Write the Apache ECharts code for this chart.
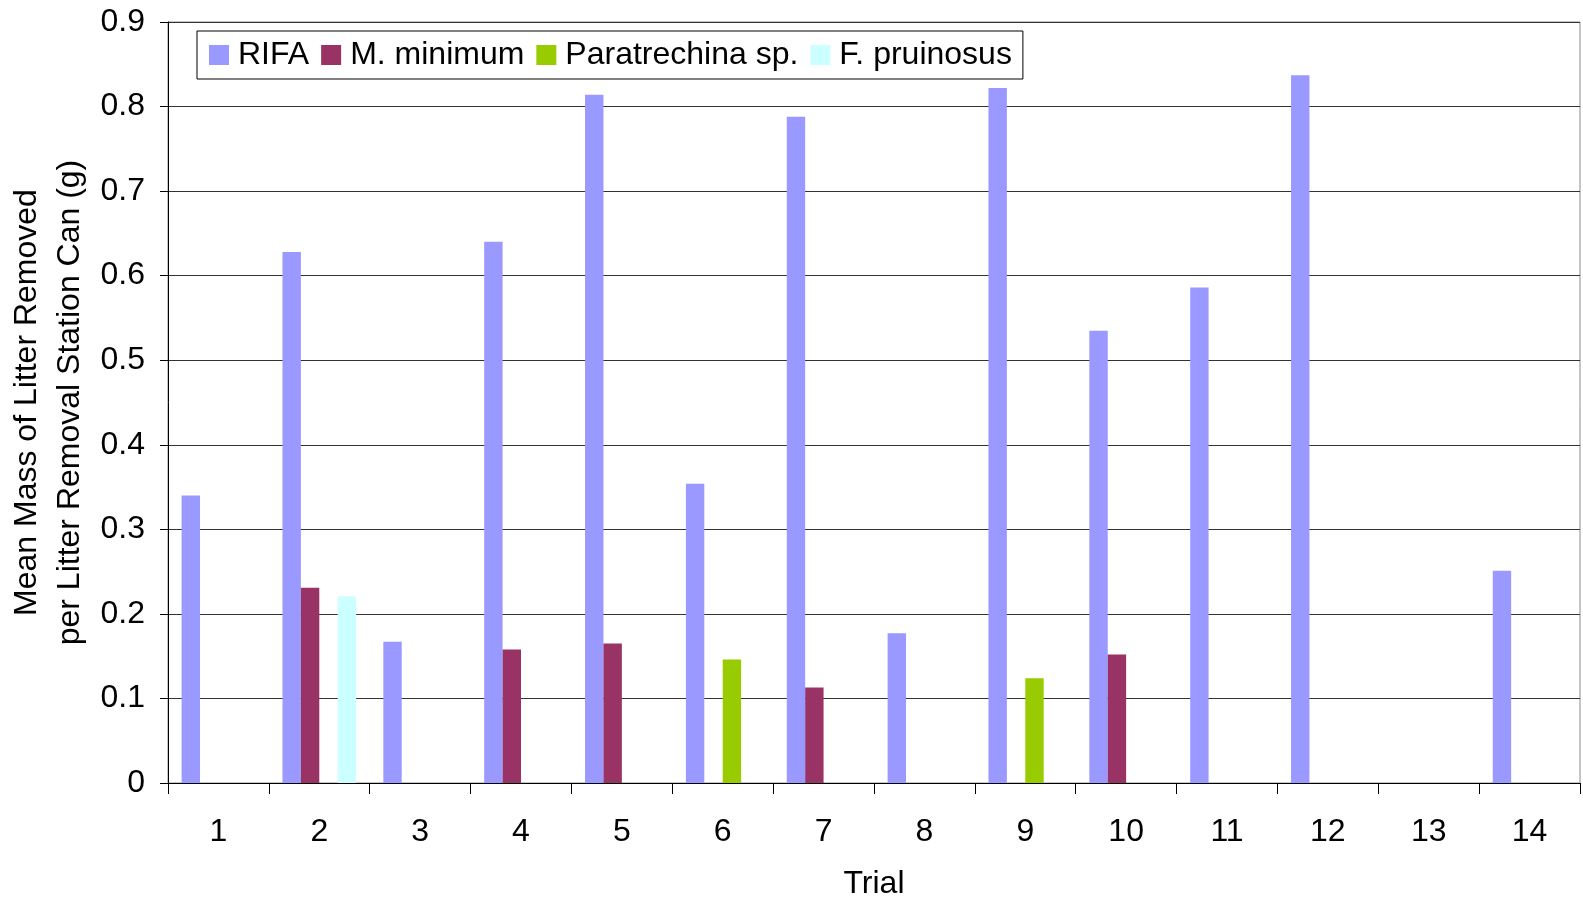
<!DOCTYPE html>
<html>
<head>
<meta charset="utf-8">
<title>Mean Mass of Litter Removed per Trial</title>
<script src="https://cdn.jsdelivr.net/npm/echarts@6/dist/echarts.min.js"></script>
<style>
  html, body { margin: 0; padding: 0; background: #ffffff; }
  #chart { width: 1583px; height: 901px; }
</style>
</head>
<body>
<div id="chart"></div>
<script>
// Trials on the x axis
const categories = ['1', '2', '3', '4', '5', '6', '7', '8', '9', '10', '11', '12', '13', '14'];

// Mean mass (g) of litter removed per station can, by ant species
const rifa         = [0.340, 0.628, 0.167, 0.640, 0.814, 0.354, 0.788, 0.177, 0.822, 0.535, 0.586, 0.837, null, 0.251];
const mMinimum     = [null, 0.231, null, 0.158, 0.165, null, 0.113, null, null, 0.152, null, null, null, null];
const paratrechina = [null, null, null, null, null, 0.146, null, null, 0.124, null, null, null, null, null];
const fPruinosus   = [null, 0.221, null, null, null, null, null, null, null, null, null, null, null, null];

const seriesNames = ['RIFA', 'M. minimum', 'Paratrechina sp.', 'F. pruinosus'];
const yTickLabels = ['0', '0.1', '0.2', '0.3', '0.4', '0.5', '0.6', '0.7', '0.8', '0.9'];

const FONT = "'Liberation Sans', Arial, Helvetica, sans-serif";
const FS = 32;
const colors = ['#9999FF', '#993366', '#99CC00', '#CCFFFF'];

const chart = echarts.init(document.getElementById('chart'), null, { renderer: 'canvas' });

const barSeries = [rifa, mMinimum, paratrechina, fPruinosus].map((data, i) => ({
  name: seriesNames[i],
  type: 'bar',
  data: data.map(v => (v === null ? '-' : v)),
  barGap: '0%',
  barCategoryGap: '27%',
  itemStyle: { color: colors[i] },
  emphasis: { disabled: true }
}));

chart.setOption({
  animation: false,
  backgroundColor: '#ffffff',
  textStyle: { fontFamily: FONT, color: '#000' },
  grid: {
    left: 168, right: 3, top: 22, bottom: 118,
    containLabel: false, outerBoundsMode: 'none',
    show: true, borderColor: '#8c8c8c', borderWidth: 1, backgroundColor: 'transparent'
  },
  legend: {
    data: seriesNames,
    left: 197, top: 31,
    padding: [8, 11, 8, 12],
    itemWidth: 20, itemHeight: 20, itemGap: 12,
    icon: 'rect',
    borderColor: '#000', borderWidth: 1,
    textStyle: { fontFamily: FONT, fontSize: FS, color: '#000', padding: [0, 0, 0, 4] }
  },
  xAxis: {
    type: 'category',
    data: categories,
    name: 'Trial',
    nameLocation: 'middle',
    nameGap: 85,
    nameMoveOverlap: false,
    nameTextStyle: { fontFamily: FONT, fontSize: FS, color: '#000' },
    axisLine: { lineStyle: { color: '#000', width: 1 } },
    axisTick: { show: true, alignWithLabel: false, length: 11, lineStyle: { color: '#000' } },
    axisLabel: { fontFamily: FONT, fontSize: FS, color: '#000', margin: 33 },
    splitLine: { show: false }
  },
  yAxis: {
    type: 'value',
    min: 0, max: 0.9, interval: 0.1,
    name: 'Mean Mass of Litter Removed\nper Litter Removal Station Can (g)',
    nameLocation: 'middle',
    nameGap: 76,
    nameMoveOverlap: false,
    nameTextStyle: { fontFamily: FONT, fontSize: FS, color: '#000', lineHeight: 43 },
    axisLine: { show: true, lineStyle: { color: '#000', width: 1 } },
    axisTick: { show: true, inside: false, length: 8, lineStyle: { color: '#000' } },
    axisLabel: {
      fontFamily: FONT, fontSize: FS, color: '#000', margin: 23,
      formatter: v => yTickLabels[Math.round(v * 10)]
    },
    splitLine: { show: true, lineStyle: { color: '#333', width: 1 } }
  },
  series: barSeries
});
</script>
</body>
</html>
